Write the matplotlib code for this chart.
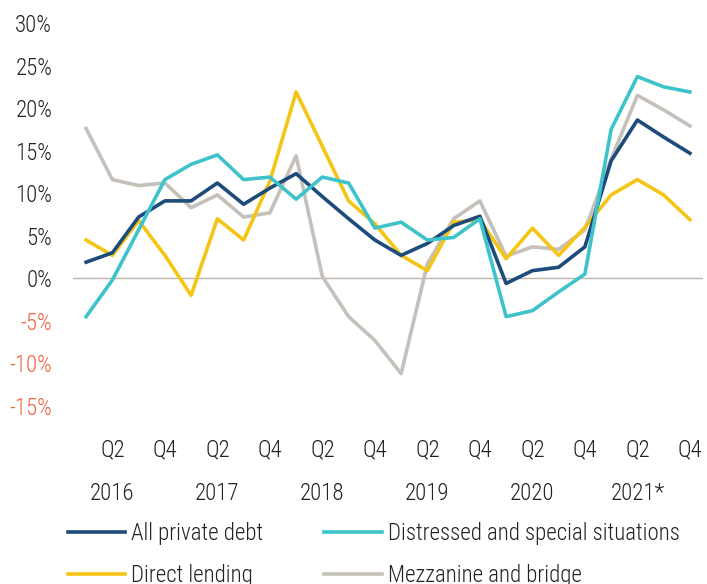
import matplotlib
matplotlib.use("Agg")
import matplotlib.pyplot as plt
from matplotlib.ticker import FuncFormatter

# Quarterly returns, 2016 Q1 .. 2021 Q4
quarters = [f"{y} Q{q}" for y in range(2016, 2022) for q in range(1, 5)]
all_private_debt = [1.9, 3.0, 7.2, 9.1, 9.1, 11.2, 8.7, 10.6, 12.3, 9.6, 7.0, 4.5,
                    2.7, 4.1, 6.2, 7.3, -0.6, 0.9, 1.3, 3.7, 13.8, 18.6, 16.6, 14.7]
distressed = [-4.5, -0.2, 5.7, 11.6, 13.4, 14.5, 11.6, 11.9, 9.3, 11.9, 11.2, 5.9,
              6.6, 4.5, 4.8, 7.0, -4.5, -3.8, -1.6, 0.5, 17.5, 23.7, 22.5, 21.9]
direct_lending = [4.5, 2.7, 6.8, 2.7, -2.0, 7.0, 4.5, 11.4, 21.9, 15.5, 9.1, 6.4,
                  2.7, 0.9, 6.6, 6.9, 2.3, 5.9, 2.7, 6.0, 9.8, 11.6, 9.8, 6.9]
mezzanine = [17.6, 11.6, 10.9, 11.2, 8.3, 9.8, 7.2, 7.7, 14.4, 0.2, -4.5, -7.3,
             -11.2, 1.7, 7.0, 9.1, 2.6, 3.7, 3.4, 5.7, 14.0, 21.5, 19.8, 17.9]

quarter_labels = ["Q2", "Q4"] * 6
year_labels = ["2016", "2017", "2018", "2019", "2020", "2021*"]
y_ticks = [30, 25, 20, 15, 10, 5, 0, -5, -10, -15]

COLORS = {
    "navy": "#1D4B7A",
    "teal": "#3EC3CA",
    "yellow": "#F5C515",
    "gray": "#C5C1BA",
    "zero": "#BDB5AC",
    "text": "#222222",
    "neg": "#F0603C",
}

FS = 16.5
plt.rcParams["font.family"] = ["Roboto Condensed", "DejaVu Sans"]
plt.rcParams["font.weight"] = 300

fig = plt.figure(figsize=(7.07, 5.84), dpi=100)
ax = fig.add_axes([73 / 707, 1 - 406 / 584, 630 / 707, 383 / 584])

x = list(range(len(quarters)))
lw = 2.6
ax.plot(x, all_private_debt, color=COLORS["navy"], lw=lw, label="All private debt", zorder=4)
ax.plot(x, direct_lending, color=COLORS["yellow"], lw=lw, label="Direct lending", zorder=3)
ax.plot(x, distressed, color=COLORS["teal"], lw=lw, label="Distressed and special situations", zorder=5)
ax.plot(x, mezzanine, color=COLORS["gray"], lw=lw, label="Mezzanine and bridge", zorder=2)

ax.axhline(0, color=COLORS["zero"], lw=1.0, zorder=1)

ax.set_xlim(-0.5, 23.5)
ax.set_ylim(-15, 30)
for s in ax.spines.values():
    s.set_visible(False)

ax.set_yticks(y_ticks)
ax.yaxis.set_major_formatter(FuncFormatter(lambda v, _: f"{v:.0f}%"))
ax.tick_params(axis="y", length=0, pad=15, labelsize=FS, labelcolor=COLORS["text"])
for lbl, v in zip(ax.get_yticklabels(), ax.get_yticks()):
    if v < 0:
        lbl.set_color(COLORS["neg"])

ax.set_xticks(x[1::2])
ax.set_xticklabels(quarter_labels)
ax.tick_params(axis="x", length=0, pad=23, labelsize=FS, labelcolor=COLORS["text"])

for i, yr in enumerate(year_labels):
    ax.text(1 + 4 * i, -0.228, yr, transform=ax.get_xaxis_transform(),
            ha="center", va="center", fontsize=FS, color=COLORS["text"])

handles, labels = ax.get_legend_handles_labels()
fig.legend(handles, labels,
           ncol=2, loc="upper left", bbox_to_anchor=(68 / 707, 1 - 522 / 584),
           borderpad=0, borderaxespad=0,
           frameon=False, fontsize=FS, handlelength=2.5, handletextpad=0.26,
           columnspacing=2.66, labelspacing=0.82, labelcolor=COLORS["text"])

fig.savefig("out.png", dpi=100)
